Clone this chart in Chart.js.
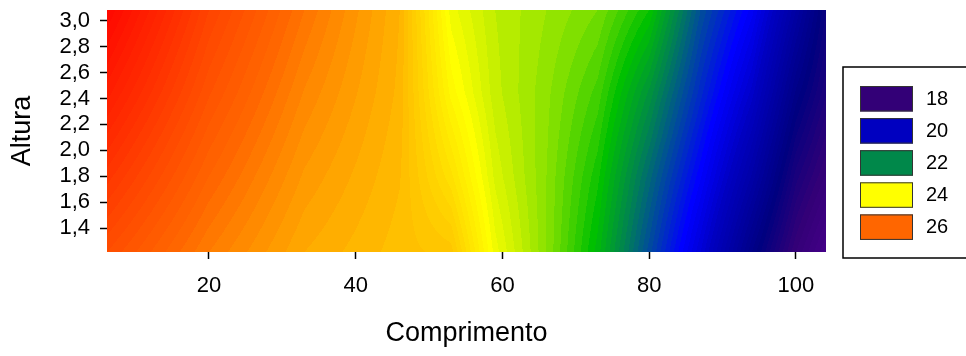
<!DOCTYPE html>
<html>
<head>
<meta charset="utf-8">
<script src="https://cdn.jsdelivr.net/npm/chart.js@4.4.1/dist/chart.umd.min.js"></script>
<style>
  html, body { margin: 0; padding: 0; background: #fff; }
  canvas { display: block; }
</style>
</head>
<body>
<canvas id="contorno" width="966" height="356"></canvas>
<script>
// nós da malha: comprimento (x) e altura (y)
const comprimento = [6.1, 20, 33, 46, 53, 59, 66, 73, 80, 87, 94, 100, 104.1];
const altura = [1.215, 1.8, 2.45, 3.083];

// valores em cada linha de altura, um por nó de comprimento
const valAltura1215 = [26.5, 25.8, 25.3, 25.05, 24.95, 23.95, 23.3, 22.55, 21.45, 20.3, 19.0, 18.0, 17.5];
const valAltura180 = [26.95, 26.1, 25.48, 25.11, 24.53, 23.77, 23.3, 22.73, 21.75, 20.72, 19.58, 18.45, 17.98];
const valAltura245 = [27.45, 26.42, 25.69, 25.17, 24.16, 23.64, 23.33, 22.96, 22.18, 21.15, 20.16, 18.98, 18.42];
const valAltura308 = [27.9, 26.7, 25.9, 25.2, 23.95, 23.6, 23.4, 23.2, 22.7, 21.5, 20.65, 19.5, 18.7];

// níveis da legenda e escala de cores contínua
const niveis = [18, 20, 22, 24, 26];
const escalaValores = [17.2, 18, 18.8, 20, 20.7, 22, 22.6, 23.2, 23.6, 24, 25, 26, 27, 28];
const escalaCores = ['#4c0090', '#330077', '#000080', '#0000c0', '#0000ff', '#00884a', '#00c000',
                     '#80e000', '#c8f000', '#ffff00', '#ffc000', '#ff6600', '#ff3000', '#ff0000'];
const passo = 0.1;

const ticksX = [20, 40, 60, 80, 100];
const ticksY = [1.4, 1.6, 1.8, 2.0, 2.2, 2.4, 2.6, 2.8, 3.0];

const grade = [valAltura1215, valAltura180, valAltura245, valAltura308];

function hexRgb(h) {
    return [parseInt(h.slice(1, 3), 16), parseInt(h.slice(3, 5), 16), parseInt(h.slice(5, 7), 16)];
}
const coresRgb = escalaCores.map(hexRgb);

function corDoValor(v) {
    if (v <= escalaValores[0]) return coresRgb[0];
    const n = escalaValores.length - 1;
    if (v >= escalaValores[n]) return coresRgb[n];
    let i = 0;
    while (v > escalaValores[i + 1]) i++;
    const t = (v - escalaValores[i]) / (escalaValores[i + 1] - escalaValores[i]);
    const a = coresRgb[i], b = coresRgb[i + 1];
    return [a[0] + (b[0] - a[0]) * t, a[1] + (b[1] - a[1]) * t, a[2] + (b[2] - a[2]) * t];
}

function indice(lista, v) {
    let i = 0;
    while (i < lista.length - 2 && v > lista[i + 1]) i++;
    return i;
}

// interpolação bilinear na malha
function valorEm(xv, yv) {
    const i = indice(comprimento, xv), j = indice(altura, yv);
    const tx = Math.min(1, Math.max(0, (xv - comprimento[i]) / (comprimento[i + 1] - comprimento[i])));
    const ty = Math.min(1, Math.max(0, (yv - altura[j]) / (altura[j + 1] - altura[j])));
    const z00 = grade[j][i], z10 = grade[j][i + 1], z01 = grade[j + 1][i], z11 = grade[j + 1][i + 1];
    return (z00 * (1 - tx) + z10 * tx) * (1 - ty) + (z01 * (1 - tx) + z11 * tx) * ty;
}

const pontos = [];
altura.forEach((y, j) => comprimento.forEach((x, i) => pontos.push({x: x, y: y, z: grade[j][i]})));

// preenche a área do gráfico com faixas de contorno
const preenchimento = {
    id: 'preenchimento',
    beforeDatasetsDraw(chart) {
        const {ctx, chartArea: a, scales: {x, y}} = chart;
        const w = Math.round(a.right - a.left), h = Math.round(a.bottom - a.top);
        const off = document.createElement('canvas');
        off.width = w; off.height = h;
        const octx = off.getContext('2d');
        const img = octx.createImageData(w, h);
        for (let py = 0; py < h; py++) {
            const yv = y.getValueForPixel(a.top + py + 0.5);
            for (let px = 0; px < w; px++) {
                const xv = x.getValueForPixel(a.left + px + 0.5);
                const z = Math.floor(valorEm(xv, yv) / passo) * passo;
                const c = corDoValor(z);
                const k = (py * w + px) * 4;
                img.data[k] = c[0]; img.data[k + 1] = c[1]; img.data[k + 2] = c[2]; img.data[k + 3] = 255;
            }
        }
        octx.putImageData(img, 0, 0);
        ctx.drawImage(off, a.left, a.top, a.right - a.left, a.bottom - a.top);
    }
};

// legenda com os níveis à direita
const legendaNiveis = {
    id: 'legendaNiveis',
    afterDraw(chart) {
        const {ctx, chartArea: a} = chart;
        const left = a.right + 17, top = a.top + 57;
        ctx.save();
        ctx.lineWidth = 1.5;
        ctx.strokeStyle = '#000';
        ctx.strokeRect(left, top, 160, 191);
        ctx.font = '20px "Liberation Sans", Arial, sans-serif';
        ctx.textBaseline = 'middle';
        ctx.fillStyle = '#000';
        niveis.forEach((nv, i) => {
            const c = corDoValor(nv);
            const sy = top + 19 + i * 32.1;
            ctx.fillStyle = 'rgb(' + c.map(Math.round).join(',') + ')';
            ctx.fillRect(left + 17, sy, 53, 25.5);
            ctx.lineWidth = 1;
            ctx.strokeStyle = '#333';
            ctx.strokeRect(left + 17.5, sy + 0.5, 52, 24.5);
            ctx.fillStyle = '#000';
            ctx.fillText(String(nv), left + 83, sy + 13.5);
        });
        ctx.restore();
    }
};

Chart.defaults.font.family = '"Liberation Sans", Arial, sans-serif';
Chart.defaults.color = '#000';

new Chart(document.getElementById('contorno'), {
    type: 'scatter',
    data: {
        datasets: [{
            data: pontos,
            pointRadius: 0,
            showLine: false
        }]
    },
    options: {
        responsive: false,
        animation: false,
        layout: { padding: { top: 10, right: 140, left: 0, bottom: 0 } },
        plugins: { legend: { display: false }, tooltip: { enabled: false } },
        scales: {
            x: {
                type: 'linear',
                min: 6.1,
                max: 104.1,
                afterFit: s => { s.height = 104; s.paddingLeft = 0; s.paddingRight = 0; },
                afterBuildTicks: s => { s.ticks = ticksX.map(v => ({value: v})); },
                grid: { drawOnChartArea: false, drawTicks: true, tickLength: 7, tickColor: '#000', tickWidth: 1.5 },
                border: { display: false },
                ticks: { font: { size: 22 }, padding: 14, maxRotation: 0 },
                title: { display: true, text: 'Comprimento', font: { size: 27 }, padding: { top: 0, bottom: 6 } }
            },
            y: {
                type: 'linear',
                min: 1.215,
                max: 3.083,
                afterFit: s => { s.width = 107; s.paddingTop = 0; s.paddingBottom = 0; },
                afterBuildTicks: s => { s.ticks = ticksY.map(v => ({value: v})); },
                grid: { drawOnChartArea: false, drawTicks: true, tickLength: 7, tickColor: '#000', tickWidth: 1.5 },
                border: { display: false },
                ticks: { font: { size: 22 }, padding: 10, callback: v => v.toFixed(1).replace('.', ',') },
                title: { display: true, text: 'Altura', font: { size: 27 }, padding: { top: 6, bottom: 0 } }
            }
        }
    },
    plugins: [preenchimento, legendaNiveis]
});
</script>
</body>
</html>
